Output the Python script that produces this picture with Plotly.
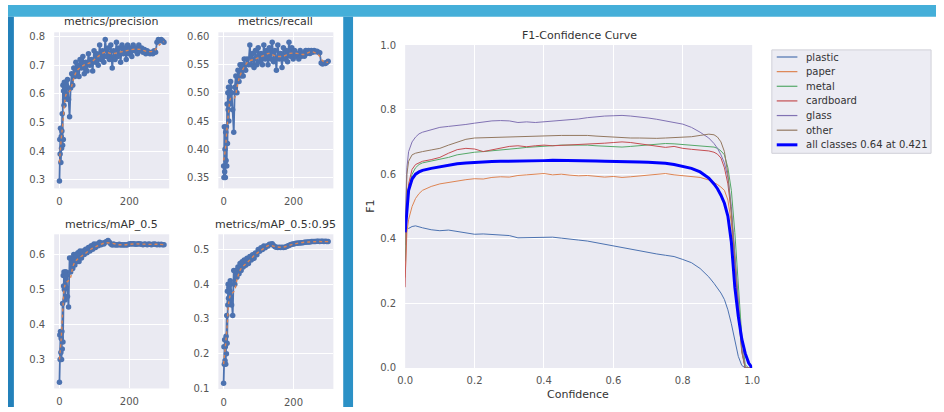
import plotly.graph_objects as go

W, H = 944, 412
FONT = "DejaVu Sans"

# ---------------- training metrics (left panel) ----------------
EPOCHS = [0, 1, 2, 3, 4, 5, 6, 7, 8, 9, 10, 11, 12, 13, 14, 15, 16, 17, 18, 19, 20,
          23, 26, 29, 32, 35, 38, 41, 44, 47, 50, 53, 56, 59,
          63, 67, 71, 75, 79, 83, 87, 91, 95, 99, 103, 107, 111, 115, 119, 123, 127, 131,
          135, 139, 143, 147, 151, 155, 159, 163, 167, 171, 175, 179, 183, 187, 191, 195,
          199, 203, 207, 211, 215, 219, 223, 227, 231, 235, 239, 243, 247, 251, 255, 259,
          263, 267, 271, 275, 279, 283, 287, 291, 295, 299]

PRECISION = [0.295, 0.44, 0.39, 0.48, 0.36, 0.45, 0.41, 0.47, 0.53, 0.42, 0.63, 0.44, 0.61, 0.56, 0.64, 0.58, 0.62, 0.59, 0.64, 0.60, 0.63,
             0.65, 0.58, 0.52, 0.62, 0.67, 0.63, 0.69, 0.66, 0.71, 0.67, 0.70, 0.66, 0.72,
             0.69, 0.73, 0.67, 0.71, 0.68, 0.74, 0.70, 0.72, 0.68, 0.75, 0.71, 0.74, 0.70, 0.77, 0.72, 0.75, 0.71, 0.79,
             0.73, 0.76, 0.72, 0.77, 0.69, 0.75, 0.72, 0.78, 0.73, 0.76, 0.71, 0.77, 0.74, 0.76, 0.72, 0.77,
             0.74, 0.76, 0.73, 0.77, 0.75, 0.76, 0.74, 0.77, 0.75, 0.76, 0.745, 0.755, 0.74, 0.75, 0.745, 0.74,
             0.745, 0.74, 0.75, 0.745, 0.78, 0.79, 0.785, 0.79, 0.785, 0.78]

RECALL = [0.37, 0.35, 0.44, 0.36, 0.40, 0.35, 0.43, 0.38, 0.44, 0.37, 0.48, 0.41, 0.50, 0.47, 0.51, 0.45, 0.50, 0.49, 0.51, 0.48, 0.52,
          0.50, 0.47, 0.43, 0.51, 0.53, 0.50, 0.54, 0.52, 0.55, 0.53, 0.55, 0.53, 0.56,
          0.54, 0.56, 0.55, 0.585, 0.55, 0.57, 0.545, 0.575, 0.55, 0.58, 0.555, 0.57, 0.55, 0.585, 0.56, 0.575, 0.55, 0.58,
          0.56, 0.59, 0.555, 0.575, 0.54, 0.585, 0.56, 0.57, 0.545, 0.58, 0.56, 0.575, 0.555, 0.59, 0.565, 0.58,
          0.56, 0.575, 0.565, 0.57, 0.56, 0.575, 0.565, 0.57, 0.565, 0.575, 0.57, 0.575, 0.57, 0.575, 0.572, 0.575,
          0.573, 0.574, 0.572, 0.571, 0.553, 0.551, 0.553, 0.552, 0.554, 0.556]

MAP50 = [0.235, 0.37, 0.30, 0.38, 0.32, 0.36, 0.30, 0.38, 0.33, 0.46, 0.35, 0.54, 0.51, 0.55, 0.50, 0.54, 0.47, 0.55, 0.53, 0.55, 0.54,
         0.48, 0.45, 0.59, 0.55, 0.59, 0.56, 0.60, 0.57, 0.60, 0.58, 0.605, 0.58, 0.61,
         0.59, 0.61, 0.60, 0.615, 0.605, 0.62, 0.61, 0.625, 0.615, 0.63, 0.62, 0.63, 0.625, 0.635, 0.628, 0.633, 0.63, 0.635,
         0.637, 0.64, 0.635, 0.63, 0.627, 0.63, 0.627, 0.628, 0.627, 0.629, 0.627, 0.628, 0.627, 0.628, 0.627, 0.628,
         0.63, 0.631, 0.63, 0.631, 0.63, 0.629, 0.63, 0.631, 0.63, 0.629, 0.628, 0.63, 0.629, 0.628, 0.63, 0.629,
         0.628, 0.629, 0.63, 0.629, 0.628, 0.629, 0.628, 0.629, 0.628, 0.628]

MAP5095 = [0.115, 0.22, 0.17, 0.24, 0.18, 0.22, 0.17, 0.25, 0.20, 0.31, 0.23, 0.38, 0.34, 0.40, 0.36, 0.39, 0.35, 0.40, 0.38, 0.41, 0.40,
           0.34, 0.31, 0.44, 0.40, 0.44, 0.42, 0.45, 0.43, 0.46, 0.44, 0.465, 0.45, 0.47,
           0.455, 0.475, 0.46, 0.48, 0.47, 0.485, 0.475, 0.49, 0.485, 0.50, 0.495, 0.505, 0.50, 0.51, 0.505, 0.51, 0.51, 0.515,
           0.515, 0.517, 0.512, 0.508, 0.507, 0.506, 0.507, 0.506, 0.507, 0.506, 0.507, 0.508, 0.51, 0.512, 0.514, 0.515,
           0.516, 0.517, 0.518, 0.518, 0.519, 0.519, 0.52, 0.52, 0.521, 0.521, 0.522, 0.522, 0.522, 0.523, 0.523, 0.523,
           0.523, 0.524, 0.524, 0.523, 0.524, 0.524, 0.523, 0.524, 0.523, 0.523]

SMOOTH_EPOCHS = [0, 5, 10, 15, 20, 30, 40, 50, 70, 90, 110, 130, 150, 170, 190, 210, 230, 250, 270, 285, 299]
PRECISION_SMOOTH = [0.36, 0.44, 0.50, 0.57, 0.60, 0.61, 0.65, 0.68, 0.70, 0.71, 0.73, 0.745, 0.74, 0.745, 0.75, 0.755, 0.755, 0.748, 0.75, 0.77, 0.782]
RECALL_SMOOTH = [0.38, 0.40, 0.44, 0.47, 0.49, 0.49, 0.515, 0.535, 0.555, 0.56, 0.565, 0.57, 0.565, 0.565, 0.57, 0.57, 0.568, 0.573, 0.568, 0.556, 0.554]
MAP50_SMOOTH = [0.30, 0.36, 0.45, 0.51, 0.52, 0.53, 0.57, 0.585, 0.60, 0.615, 0.625, 0.633, 0.632, 0.628, 0.628, 0.63, 0.63, 0.629, 0.629, 0.629, 0.628]
MAP5095_SMOOTH = [0.17, 0.22, 0.28, 0.35, 0.37, 0.38, 0.42, 0.445, 0.465, 0.485, 0.50, 0.512, 0.508, 0.507, 0.513, 0.518, 0.521, 0.522, 0.523, 0.523, 0.523]

METRIC_TITLES = ["metrics/precision", "metrics/recall", "metrics/mAP_0.5", "metrics/mAP_0.5:0.95"]
EPOCH_TICKS = [0, 200]

# ---------------- F1-confidence curve (right panel) ----------------
CONF = [0.0, 0.005, 0.01, 0.02, 0.03, 0.04, 0.05, 0.075, 0.1, 0.125, 0.15, 0.175, 0.2, 0.225, 0.25, 0.275,
        0.3, 0.325, 0.35, 0.375, 0.4, 0.425, 0.45, 0.475, 0.5, 0.525, 0.55, 0.575, 0.6, 0.625, 0.65, 0.675,
        0.7, 0.725, 0.75, 0.775, 0.8, 0.825, 0.85, 0.875, 0.89, 0.9, 0.91, 0.92, 0.93, 0.94, 0.95, 0.96,
        0.97, 0.98, 0.99, 1.0]

F1_PLASTIC = [0.43, 0.435, 0.432, 0.438, 0.44, 0.436, 0.434, 0.428, 0.425, 0.427, 0.422, 0.418, 0.414, 0.415, 0.414, 0.412,
              0.41, 0.403, 0.404, 0.405, 0.406, 0.405, 0.402, 0.398, 0.396, 0.393, 0.388, 0.381, 0.377, 0.373, 0.368, 0.362,
              0.357, 0.353, 0.349, 0.345, 0.336, 0.326, 0.308, 0.282, 0.262, 0.248, 0.232, 0.212, 0.18, 0.137, 0.085, 0.036,
              0.008, 0.0, 0.0, 0.0]
F1_PAPER = [0.28, 0.42, 0.46, 0.50, 0.525, 0.54, 0.55, 0.562, 0.57, 0.575, 0.578, 0.583, 0.586, 0.585, 0.59, 0.592,
            0.591, 0.596, 0.598, 0.60, 0.602, 0.598, 0.60, 0.597, 0.595, 0.596, 0.594, 0.591, 0.593, 0.59, 0.592, 0.595,
            0.597, 0.60, 0.602, 0.598, 0.595, 0.592, 0.59, 0.582, 0.575, 0.568, 0.56, 0.55, 0.52, 0.45, 0.32, 0.17,
            0.05, 0.0, 0.0, 0.0]
F1_METAL = [0.33, 0.50, 0.55, 0.60, 0.62, 0.63, 0.635, 0.64, 0.645, 0.652, 0.66, 0.665, 0.668, 0.67, 0.672, 0.675,
            0.678, 0.68, 0.683, 0.685, 0.688, 0.688, 0.69, 0.69, 0.691, 0.69, 0.688, 0.686, 0.685, 0.684, 0.686, 0.688,
            0.69, 0.692, 0.695, 0.694, 0.692, 0.69, 0.688, 0.686, 0.684, 0.68, 0.672, 0.66, 0.62, 0.55, 0.42, 0.26,
            0.10, 0.01, 0.0, 0.0]
F1_CARDBOARD = [0.25, 0.50, 0.57, 0.615, 0.63, 0.635, 0.64, 0.645, 0.652, 0.665, 0.676, 0.68, 0.678, 0.67, 0.676, 0.682,
                0.686, 0.688, 0.685, 0.688, 0.69, 0.688, 0.689, 0.69, 0.692, 0.694, 0.695, 0.696, 0.698, 0.70, 0.698, 0.694,
                0.69, 0.688, 0.683, 0.686, 0.68, 0.677, 0.675, 0.672, 0.668, 0.662, 0.65, 0.62, 0.57, 0.48, 0.35, 0.20,
                0.06, 0.0, 0.0, 0.0]
F1_GLASS = [0.45, 0.62, 0.67, 0.70, 0.715, 0.725, 0.73, 0.738, 0.745, 0.748, 0.75, 0.754, 0.758, 0.762, 0.765, 0.766,
            0.765, 0.76, 0.762, 0.76, 0.762, 0.765, 0.766, 0.768, 0.771, 0.775, 0.778, 0.78, 0.781, 0.782, 0.78, 0.778,
            0.774, 0.77, 0.765, 0.762, 0.755, 0.745, 0.73, 0.712, 0.695, 0.68, 0.66, 0.635, 0.59, 0.50, 0.36, 0.20,
            0.06, 0.0, 0.0, 0.0]
F1_OTHER = [0.38, 0.60, 0.64, 0.66, 0.665, 0.668, 0.67, 0.675, 0.68, 0.69, 0.70, 0.708, 0.712, 0.713, 0.714, 0.715,
            0.716, 0.717, 0.717, 0.718, 0.718, 0.719, 0.72, 0.72, 0.721, 0.72, 0.718, 0.716, 0.714, 0.713, 0.712, 0.712,
            0.711, 0.711, 0.712, 0.713, 0.714, 0.716, 0.72, 0.724, 0.722, 0.715, 0.70, 0.67, 0.60, 0.48, 0.33, 0.17,
            0.05, 0.0, 0.0, 0.0]
F1_ALL = [0.42, 0.50, 0.55, 0.585, 0.60, 0.607, 0.612, 0.618, 0.623, 0.628, 0.632, 0.635, 0.637, 0.638, 0.639, 0.64,
          0.64, 0.641, 0.641, 0.642, 0.642, 0.643, 0.643, 0.642, 0.642, 0.642, 0.641, 0.64, 0.64, 0.64, 0.639, 0.638,
          0.637, 0.636, 0.634, 0.63, 0.625, 0.618, 0.607, 0.588, 0.57, 0.555, 0.535, 0.51, 0.47, 0.39, 0.25, 0.16,
          0.09, 0.045, 0.015, 0.0]

CLASS_NAMES = ["plastic", "paper", "metal", "cardboard", "glass", "other", "all classes 0.64 at 0.421"]
CLASS_COLORS = ["#4c72b0", "#dd8452", "#55a868", "#c44e52", "#8172b3", "#937860", "#0000ff"]
F1_TICKS = [0.0, 0.2, 0.4, 0.6, 0.8, 1.0]


def px_x(p):
    return p / W


def px_y(p):
    return 1 - p / H


fig = go.Figure()

# small metric plots
series = [(PRECISION, PRECISION_SMOOTH), (RECALL, RECALL_SMOOTH), (MAP50, MAP50_SMOOTH), (MAP5095, MAP5095_SMOOTH)]
for i, (raw, smooth) in enumerate(series):
    ax = "" if i == 0 else str(i + 1)
    fig.add_trace(go.Scatter(x=EPOCHS, y=raw, mode="lines+markers", xaxis="x" + ax, yaxis="y" + ax,
                             line=dict(color="#4c72b0", width=1.8), marker=dict(color="#4c72b0", size=5.5),
                             showlegend=False, hoverinfo="skip"))
    fig.add_trace(go.Scatter(x=SMOOTH_EPOCHS, y=smooth, mode="lines", xaxis="x" + ax, yaxis="y" + ax,
                             line=dict(color="#dd8452", width=1.4, dash="dot", shape="spline"),
                             showlegend=False, hoverinfo="skip"))

# F1 curves
f1_series = [F1_PLASTIC, F1_PAPER, F1_METAL, F1_CARDBOARD, F1_GLASS, F1_OTHER, F1_ALL]
for name, col, ys in zip(CLASS_NAMES, CLASS_COLORS, f1_series):
    width = 3 if name.startswith("all") else 1
    fig.add_trace(go.Scatter(x=CONF, y=ys, mode="lines", name=name, xaxis="x5", yaxis="y5",
                             line=dict(color=col, width=width), showlegend=False, hoverinfo="skip"))

# geometry (pixel boxes)
boxes = {
    1: (47, 164, 28, 188, [-15, 314], [0.2693, 0.8147], [0.3, 0.4, 0.5, 0.6, 0.7, 0.8], ["0.3", "0.4", "0.5", "0.6", "0.7", "0.8"]),
    2: (214, 331, 28, 188, [-15, 314], [0.3304, 0.6074], [0.35, 0.40, 0.45, 0.50, 0.55, 0.60], ["0.35", "0.40", "0.45", "0.50", "0.55", "0.60"]),
    3: (47, 164, 235, 393, [-15, 314], [0.2172, 0.6577], [0.3, 0.4, 0.5, 0.6], ["0.3", "0.4", "0.5", "0.6"]),
    4: (214, 331, 235, 393.5, [-15, 314], [0.0985, 0.544], [0.1, 0.2, 0.3, 0.4, 0.5], ["0.1", "0.2", "0.3", "0.4", "0.5"]),
}

tickfont = dict(family=FONT, size=10, color="#555555")
layout_axes = {}
for i, (x0, x1, y0, y1, xr, yr, yt, ytl) in boxes.items():
    k = "" if i == 1 else str(i)
    layout_axes["xaxis" + k] = dict(domain=[px_x(x0), px_x(x1)], range=xr, anchor="y" + k,
                                    tickvals=EPOCH_TICKS, ticktext=[str(t) for t in EPOCH_TICKS],
                                    showgrid=True, gridcolor="white", gridwidth=1, zeroline=False,
                                    ticks="outside", ticklen=4, tickcolor="rgba(0,0,0,0)",
                                    tickfont=tickfont, showline=False, fixedrange=True)
    layout_axes["yaxis" + k] = dict(domain=[px_y(y1), px_y(y0)], range=yr, anchor="x" + k,
                                    tickvals=yt, ticktext=ytl,
                                    showgrid=True, gridcolor="white", gridwidth=1, zeroline=False,
                                    ticks="outside", ticklen=6, tickcolor="rgba(0,0,0,0)",
                                    tickfont=tickfont, showline=False, fixedrange=True)

layout_axes["xaxis5"] = dict(domain=[px_x(404), px_x(757)], range=[0, 1], anchor="y5",
                             tickvals=F1_TICKS, ticktext=["%.1f" % t for t in F1_TICKS],
                             showgrid=True, gridcolor="white", gridwidth=1, zeroline=False,
                             ticks="outside", ticklen=3, tickcolor="rgba(0,0,0,0)",
                             tickfont=tickfont, fixedrange=True)
layout_axes["yaxis5"] = dict(domain=[px_y(372), px_y(41)], range=[0, 1], anchor="x5",
                             tickvals=F1_TICKS, ticktext=["%.1f" % t for t in F1_TICKS],
                             showgrid=True, gridcolor="white", gridwidth=1, zeroline=False,
                             ticks="outside", ticklen=6, tickcolor="rgba(0,0,0,0)",
                             tickfont=tickfont, fixedrange=True)

titlefont = dict(family=FONT, size=11, color="#333333")
annotations = [
    dict(text=METRIC_TITLES[0], x=px_x(105.5), y=px_y(17)),
    dict(text=METRIC_TITLES[1], x=px_x(272), y=px_y(17)),
    dict(text=METRIC_TITLES[2], x=px_x(105.5), y=px_y(225)),
    dict(text=METRIC_TITLES[3], x=px_x(272), y=px_y(225)),
    dict(text="F1-Confidence Curve", x=px_x(581), y=px_y(31)),
    dict(text="Confidence", x=px_x(580), y=px_y(399)),
    dict(text="F1", x=px_x(368), y=px_y(206), textangle=-90),
]
for a in annotations:
    a.update(xref="paper", yref="paper", showarrow=False, xanchor="center", yanchor="middle", font=titlefont)

shapes = [
    dict(type="rect", xref="paper", yref="paper", x0=0, x1=1, y0=px_y(12), y1=1,
         fillcolor="#45afd9", line=dict(width=0), layer="below"),
    dict(type="rect", xref="paper", yref="paper", x0=0, x1=px_x(6), y0=0, y1=px_y(12),
         fillcolor="#2381ba", line=dict(width=0), layer="below"),
    dict(type="rect", xref="paper", yref="paper", x0=px_x(341), x1=px_x(351), y0=0, y1=px_y(12),
         fillcolor="#2c91c6", line=dict(width=0), layer="below"),
]

# hand-built legend (matplotlib-like compact spacing)
LEG_X0, LEG_X1, LEG_Y0, LEG_Y1 = 777, 939, 46, 152
shapes.append(dict(type="rect", xref="paper", yref="paper",
                   x0=px_x(LEG_X0), x1=px_x(LEG_X1), y0=px_y(LEG_Y1), y1=px_y(LEG_Y0),
                   fillcolor="rgba(236,236,243,1)", line=dict(color="#d0d0d8", width=1), layer="above"))
for j, (name, col) in enumerate(zip(CLASS_NAMES, CLASS_COLORS)):
    yc = 53.3 + 15 * j
    lw = 3 if name.startswith("all") else 1.2
    shapes.append(dict(type="line", xref="paper", yref="paper",
                       x0=px_x(782), x1=px_x(803), y0=px_y(yc), y1=px_y(yc),
                       line=dict(color=col, width=lw), layer="above"))
    annotations.append(dict(text=name, xref="paper", yref="paper", x=px_x(810), y=px_y(yc),
                            xanchor="left", yanchor="middle", showarrow=False,
                            font=dict(family=FONT, size=10, color="#333333")))

fig.update_layout(
    width=W, height=H, autosize=False,
    margin=dict(l=0, r=0, t=0, b=0),
    paper_bgcolor="white", plot_bgcolor="#eaeaf2",
    font=dict(family=FONT, size=10, color="#444444"),
    showlegend=False,
    annotations=annotations,
    shapes=shapes,
    **layout_axes,
)

POST = ("document.body.style.margin='0';document.body.style.padding='0';"
        "document.body.style.overflow='hidden';document.documentElement.style.overflow='hidden';")
fig.write_html("out.html", config={"responsive": False, "displayModeBar": False},
               default_width="944px", default_height="412px", post_script=POST)
